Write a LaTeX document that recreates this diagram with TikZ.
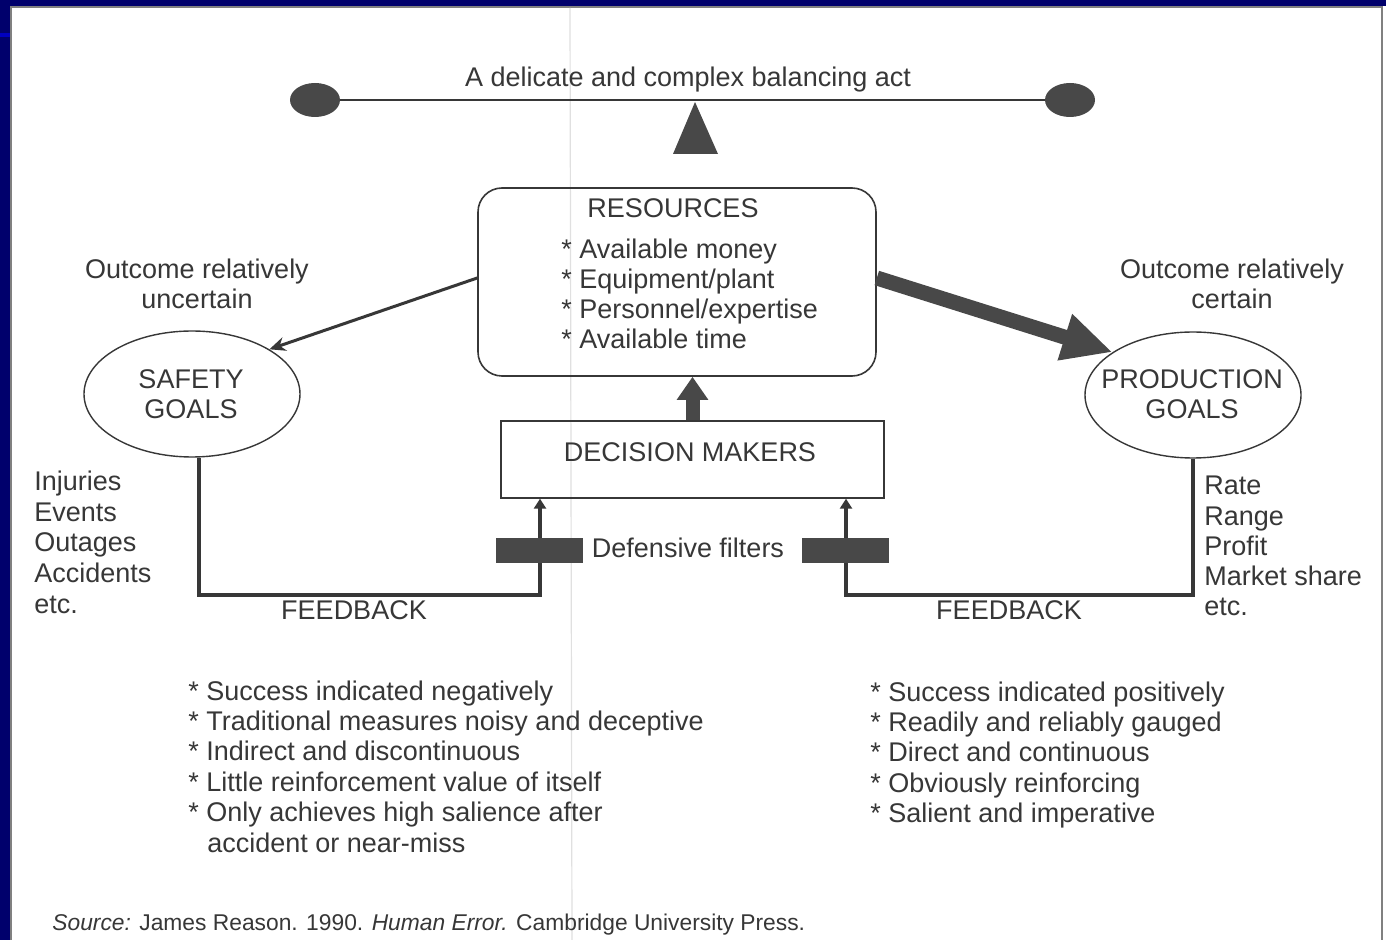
\documentclass[tikz,border=0pt]{standalone}
\usepackage{fontspec}
\setmainfont{Liberation Sans}
\usetikzlibrary{arrows.meta}
\usetikzlibrary{shapes.geometric}
\definecolor{slideblue}{RGB}{0,0,108}
\definecolor{ink}{RGB}{55,55,55}
\definecolor{blob}{RGB}{72,72,72}

\begin{document}
\begin{tikzpicture}[x=0.5pt,y=-0.5pt,
  txt/.style={text=ink, inner sep=0, font=\fontsize{13.5}{15}\selectfont},
  goal/.style={draw=ink, ellipse, minimum width=108pt, minimum height=63pt, inner sep=0, line width=0.7pt},
  weight/.style={ellipse, fill=blob, minimum width=25pt, minimum height=17pt, inner sep=0},
  feed/.style={draw=ink, line width=2.3pt},
  filt/.style={fill=blob, minimum width=43.5pt, minimum height=12.5pt, inner sep=0},
]
% slide background
\useasboundingbox (0,0) rectangle (1386,940);
\fill[slideblue] (0,0) rectangle (1386,940);
\fill[white] (10,6) rectangle (1386,940);
\fill[blue!75!black] (0,33) rectangle (10,37);
\draw[gray, line width=1pt] (11,940) -- (11,7) -- (1382,7) -- (1382,940);
\draw[black!12, line width=0.6pt] (570,8) -- (572,940);

% balance
\coordinate (beamL) at (315,100);
\coordinate (beamR) at (1070,100);
\draw[ink, line width=1pt] (beamL) -- (beamR);
\node[weight] (wL) at (beamL) {};
\node[weight] (wR) at (beamR) {};
\fill[blob] (695,102) -- (718,154) -- (673,154) -- cycle;
\node[txt, anchor=base] (title) at (688,87) {A delicate and complex balancing act};

% resources
\node[draw=ink, rounded corners=12pt, minimum width=199pt, minimum height=94pt, line width=0.8pt] (res) at (677,282) {};
\node[txt, anchor=base] (resT) at (673,218) {RESOURCES};
\foreach \t [count=\i] in {Available money, Equipment/plant, Personnel/expertise, Available time}
  \node[txt, anchor=base west] (res\i) at (561,229+30*\i) {* \t};

% goals
\node[goal] (saf) at (192,394) {};
\node[goal] (pro) at (1193,395) {};
\node[txt, align=center] (safT) at (191,394) {SAFETY\\GOALS};
\node[txt, align=center] (proT) at (1192,394) {PRODUCTION\\GOALS};
\node[txt, align=center] (unc) at (197,284) {Outcome relatively\\uncertain};
\node[txt, align=center] (cer) at (1232,284) {Outcome relatively\\certain};

% decision makers
\node[draw=ink, minimum width=191.5pt, minimum height=38.5pt, line width=0.7pt] (dm) at (692.5,459.5) {};
\node[txt, anchor=base] (dmT) at (690,462) {DECISION MAKERS};

% arrows out of resources
\draw[ink, line width=1.5pt, -{Stealth[length=8pt,width=7pt]}] ([yshift=2pt]res.west) -- (saf.30);
\draw[blob, line width=7.5pt, -{Triangle[length=25pt,width=22.5pt]}] ([yshift=2pt]res.east) -- (pro.152);
\draw[blob, line width=7pt, -{Triangle[length=11.5pt,width=15pt]}] (dm.north) -- (dm.north |- res.south);

% feedback loops
\coordinate (fbL) at (540,595);
\coordinate (fbR) at (846,595);
\draw[feed, -{Triangle[length=5pt,width=6pt]}] ([xshift=3.5pt]saf.south) |- (fbL) -- (fbL |- dm.south);
\draw[feed, -{Triangle[length=5pt,width=6pt]}] (pro.south) |- (fbR) -- (fbR |- dm.south);
\node[filt] (filtL) at (539.5,550.5) {};
\node[filt] (filtR) at (845.5,550.5) {};
\node[txt, anchor=base] (defT) at (688,558) {Defensive filters};
\node[txt, anchor=base] (fbLT) at (354,619) {FEEDBACK};
\node[txt, anchor=base] (fbRT) at (1009,619) {FEEDBACK};

\foreach \t [count=\i] in {Injuries, Events, Outages, Accidents, etc.}
  \node[txt, anchor=base west] (sm\i) at (34,460.5+30.5*\i) {\t};
\foreach \t [count=\i] in {Rate, Range, Profit, Market share, etc.}
  \node[txt, anchor=base west] (pm\i) at (1204,465+30*\i) {\t};

% lists
\foreach \t [count=\i] in {Success indicated negatively, Traditional measures noisy and deceptive, Indirect and discontinuous, Little reinforcement value of itself, Only achieves high salience after}
  \node[txt, anchor=base west] (sl\i) at (188,669.6+30.4*\i) {* \t};
\node[txt, anchor=base west] (sl6) at (207,852) {accident or near-miss};
\foreach \t [count=\i] in {Success indicated positively, Readily and reliably gauged, Direct and continuous, Obviously reinforcing, Salient and imperative}
  \node[txt, anchor=base west] (pl\i) at (870,670.6+30.4*\i) {* \t};

\node[txt, anchor=base west, font=\fontsize{11.4}{14}\selectfont] (src) at (52,930) {\textit{Source:} James Reason. 1990. \textit{Human Error.} Cambridge University Press.};
\end{tikzpicture}
\end{document}
